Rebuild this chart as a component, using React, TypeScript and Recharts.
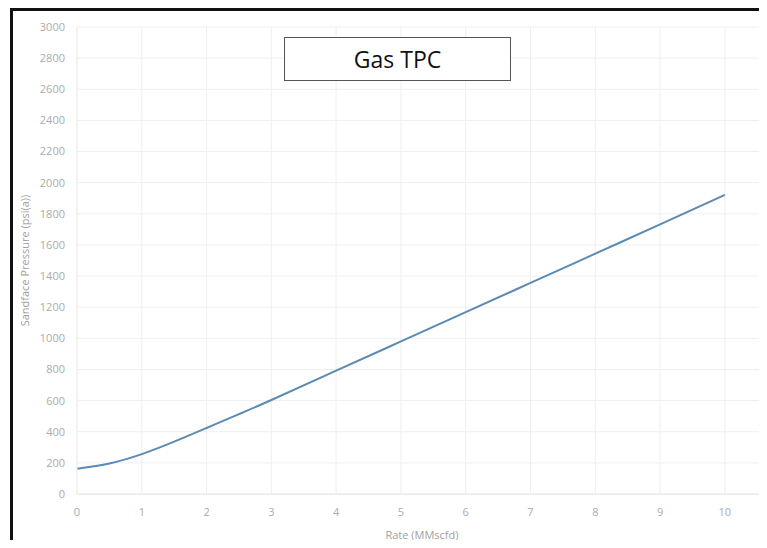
import { LineChart, Line, XAxis, YAxis, CartesianGrid, Label } from "recharts";

const rates = [0, 0.5, 1, 1.5, 2, 2.5, 3, 4, 5, 6, 7, 8, 9, 10];
const pressures = [162, 196, 256, 336, 424, 513, 604, 792, 980, 1168, 1356, 1544, 1732, 1922];
const xTicks = [0, 1, 2, 3, 4, 5, 6, 7, 8, 9, 10];
const yTicks = [0, 200, 400, 600, 800, 1000, 1200, 1400, 1600, 1800, 2000, 2200, 2400, 2600, 2800, 3000];

const data = rates.map((r, i) => ({ rate: r, pressure: pressures[i] }));

const tickStyle = { fill: "#ababab", fontSize: 11, fontFamily: "Open Sans" };
const labelStyle = { fill: "#a0a0a0", fontSize: 11, fontFamily: "Open Sans" };

export default function App() {
  return (
    <div style={{ position: "relative", width: 767, height: 548, margin: -8, background: "#fff", overflow: "hidden" }}>
      <div
        style={{
          position: "absolute",
          left: 10,
          top: 8,
          width: 767,
          height: 538,
          borderTop: "3px solid #111",
          borderLeft: "3px solid #111",
          borderBottom: "1px solid #ddd",
          boxSizing: "border-box",
        }}
      />
      <div style={{ position: "absolute", left: 0, top: 0 }}>
        <LineChart width={767} height={548} data={data} margin={{ top: 27, right: 0, bottom: 0, left: 0 }}>
          <CartesianGrid stroke="#efefef" />
          <XAxis
            dataKey="rate"
            type="number"
            domain={[0, 10.65]}
            ticks={xTicks}
            height={54}
            tick={tickStyle}
            tickLine={false}
            axisLine={{ stroke: "#e6e6e6" }}
            tickMargin={8}
          >
            <Label value="Rate (MMscfd)" position="insideBottom" offset={9} style={labelStyle} />
          </XAxis>
          <YAxis
            type="number"
            domain={[0, 3000]}
            ticks={yTicks}
            width={77}
            tick={tickStyle}
            tickLine={false}
            axisLine={{ stroke: "#efefef" }}
            tickMargin={6}
          >
            <Label
              value="Sandface Pressure (psi(a))"
              angle={-90}
              position="insideLeft"
              offset={25}
              style={{ ...labelStyle, textAnchor: "middle" }}
            />
          </YAxis>
          <Line
            type="natural"
            dataKey="pressure"
            stroke="#5b8ab4"
            strokeWidth={2}
            dot={false}
            isAnimationActive={false}
          />
        </LineChart>
      </div>
      <div
        style={{
          position: "absolute",
          left: 284,
          top: 37,
          width: 227,
          height: 44,
          border: "1px solid #555",
          boxSizing: "border-box",
          background: "#fff",
          display: "flex",
          alignItems: "center",
          justifyContent: "center",
          fontFamily: "Open Sans",
          fontSize: 23,
          color: "#111",
        }}
      >
        Gas TPC
      </div>
    </div>
  );
}
